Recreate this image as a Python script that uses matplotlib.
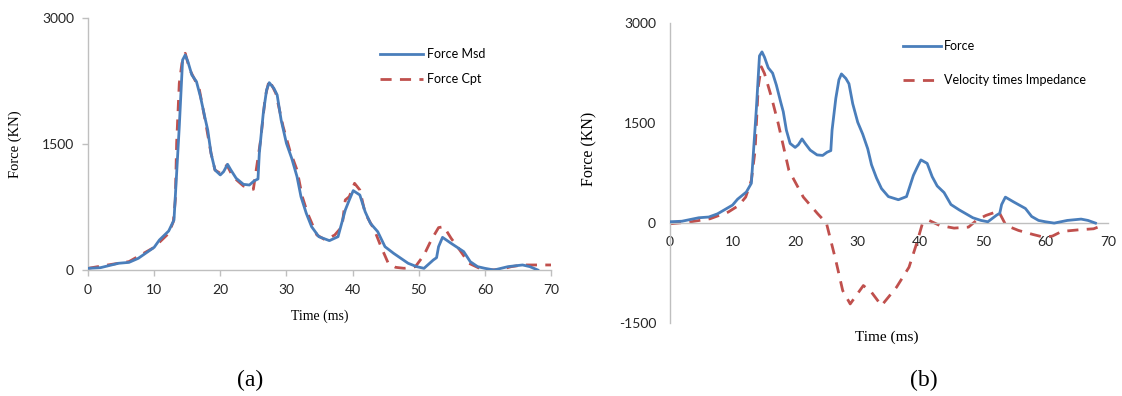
import matplotlib
matplotlib.use("Agg")
import matplotlib.pyplot as plt

plt.rcParams["axes.unicode_minus"] = False

# ---- data ----
t_msd = [0, 1.9, 4.6, 6.2, 7.6, 10, 10.8, 12.2, 13, 13.4, 13.8, 14.3, 14.7, 15.1, 15.7, 16.4,
         17, 17.7, 18.1, 18.6, 19.2, 20, 20.5, 21.1, 21.6, 22.4, 23.5, 24.4, 25.1, 25.7, 25.9,
         26.5, 27, 27.4, 28.1, 28.6, 29.2, 30, 30.8, 31.6, 32.2, 33, 33.8, 34.9, 36.5, 37.8,
         38.9, 39.5, 40.1, 41.1, 41.9, 42.7, 43.8, 44.9, 46.2, 48.4, 49.7, 50.8, 52.2, 52.7,
         53, 53.6, 54.9, 56.8, 57.8, 58.9, 60, 61.4, 63.5, 65.7, 66.8, 68]
f_msd = [20, 28, 80, 91, 139, 270, 358, 465, 596, 1152, 1709, 2503, 2563, 2484, 2325, 2245,
         2066, 1808, 1669, 1391, 1192, 1133, 1172, 1260, 1192, 1093, 1021, 1013, 1061, 1085, 1391,
         1868, 2146, 2233, 2166, 2086, 1788, 1510, 1331, 1113, 874, 676, 517, 397, 350, 397,
         715, 834, 946, 894, 695, 556, 457, 278, 199, 80, 40, 20, 119, 147,
         278, 389, 318, 219, 99, 40, 20, 0, 40, 60, 40, 0]

t_cpt = [0, 3, 6.2, 10, 12.2, 12.9, 13.2, 13.4, 13.8, 14.2, 14.7, 15.4, 16.8, 17.8, 18.6, 19.2,
         20, 20.5, 21, 21.9, 23.5, 25, 26.1, 26.8, 27.4, 28.4, 29.5, 30.5, 31.6, 32.4, 33.2,
         34.6, 35.9, 37.3, 38.4, 38.9, 39.5, 40.3, 41.1, 41.9, 43.3, 44.3, 45.4, 46.5, 47.8,
         49.5, 50.8, 51.9, 53, 53.8, 54.9, 56.2, 57.6, 59.2, 60.8, 62.4, 64, 65.7, 67.8, 70]
f_cpt = [20, 60, 100, 270, 437, 576, 835, 1510, 2225, 2464, 2583, 2384, 2166, 1749, 1391, 1192,
         1152, 1192, 1252, 1113, 1001, 962, 1550, 2066, 2265, 2106, 1709, 1430, 1192, 874, 676,
         417, 358, 417, 517, 835, 874, 1033, 954, 676, 477, 278, 80, 32, 20,
         40, 179, 358, 505, 517, 378, 238, 80, 20, 0, 8, 40, 60, 60, 60]

t_vi = [0, 3, 6.4, 9.3, 11, 12.1, 13, 13.6, 14.1, 14.6, 15.1, 16.2, 17.3, 19, 21.3, 23.6, 25,
        26.5, 27.6, 28.8, 30.9, 32.2, 33.8, 36.2, 38.2, 39.4, 40.3, 41.4, 43.1, 45.4, 47.7,
        49.1, 50.5, 52.5, 53.7, 55.7, 58, 59.7, 61.1, 62.6, 65.4, 67.7, 69.1]
f_vi = [-10, 15, 65, 165, 265, 390, 640, 1090, 2040, 2340, 2240, 1890, 1490, 790, 390, 140, 0,
        -560, -1010, -1210, -935, -1035, -1235, -960, -660, -310, -20, 40, -35, -75, -60,
        50, 115, 180, -35, -110, -170, -210, -195, -125, -100, -85, -35]

xticks = [0, 10, 20, 30, 40, 50, 60, 70]
yticks_a = [0, 1500, 3000]
yticks_b = [-1500, 0, 1500, 3000]

BLUE = "#4a7ebb"
RED = "#c0504d"
GRAY = "#bfbfbf"
TICKFONT = "Lato"
SERIF = "Liberation Serif"
DASH = (0, (4, 3))

fig = plt.figure(figsize=(11.22, 3.96), dpi=100)

def style(ax):
    for s in ["top", "right"]:
        ax.spines[s].set_visible(False)
    for s in ["left", "bottom"]:
        ax.spines[s].set_color(GRAY)
        ax.spines[s].set_linewidth(1.0)
    ax.tick_params(colors=GRAY, length=4, width=1, labelcolor="#262626", labelsize=10)
    for lab in ax.get_xticklabels() + ax.get_yticklabels():
        lab.set_fontfamily(TICKFONT)

# ---- panel (a) ----
ax1 = fig.add_axes([88/1122, 1-270/396, (551-88)/1122, (270-18.3)/396])
ax1.plot(t_msd, f_msd, color=BLUE, lw=2.0, label="Force Msd", zorder=3)
ax1.plot(t_cpt, f_cpt, color=RED, lw=2.0, ls=DASH, label="Force Cpt", zorder=2)
ax1.set_xlim(0, 70)
ax1.set_ylim(0, 3000)
ax1.set_xticks(xticks)
ax1.set_yticks(yticks_a)
style(ax1)
ax1.tick_params(axis="x", pad=6)
ax1.tick_params(axis="y", pad=6)
ax1.set_xlabel("Time (ms)", fontfamily=SERIF, fontsize=10, labelpad=10)
ax1.set_ylabel("Force (KN)", fontfamily=SERIF, fontsize=10.5, labelpad=14)
ax1.legend(loc="upper left", bbox_to_anchor=((380-88)/463, (270-48)/252),
           frameon=False, borderaxespad=0, borderpad=0, handlelength=3.4,
           handletextpad=0.35, labelspacing=1.05,
           prop={"family": TICKFONT, "size": 9})

# ---- panel (b) ----
ax2 = fig.add_axes([670/1122, 1-323.3/396, (1108-670)/1122, (323.3-22.7)/396])
ax2.plot(t_msd, f_msd, color=BLUE, lw=2.0, label="Force", zorder=3)
ax2.plot(t_vi, f_vi, color=RED, lw=2.0, ls=DASH, label="Velocity times Impedance", zorder=2)
ax2.set_xlim(0, 70)
ax2.set_ylim(-1500, 3000)
ax2.set_xticks(xticks)
ax2.set_yticks(yticks_b)
ax2.spines["bottom"].set_position(("data", 0))
style(ax2)
ax2.tick_params(axis="x", length=0, pad=9)
ax2.tick_params(axis="y", length=0, pad=10)
ax2.set_xlabel("Time (ms)", fontfamily=SERIF, fontsize=11)
ax2.xaxis.set_label_coords(0.495, -0.025)
ax2.set_ylabel("Force (KN)", fontfamily=SERIF, fontsize=11.5, labelpad=16)
ax2.yaxis.set_label_coords(-0.165, 0.58)
ax2.legend(loc="upper left", bbox_to_anchor=((903-670)/438, (323.3-40)/300.6),
           frameon=False, borderaxespad=0, borderpad=0, handlelength=3.0,
           handletextpad=0.25, labelspacing=1.75,
           prop={"family": TICKFONT, "size": 9})

fig.text(250/1122, 1-380/396, "(a)", fontfamily=SERIF, fontsize=17, ha="center", va="center")
fig.text(924/1122, 1-380/396, "(b)", fontfamily=SERIF, fontsize=17, ha="center", va="center")

fig.savefig("out.png", dpi=100)
